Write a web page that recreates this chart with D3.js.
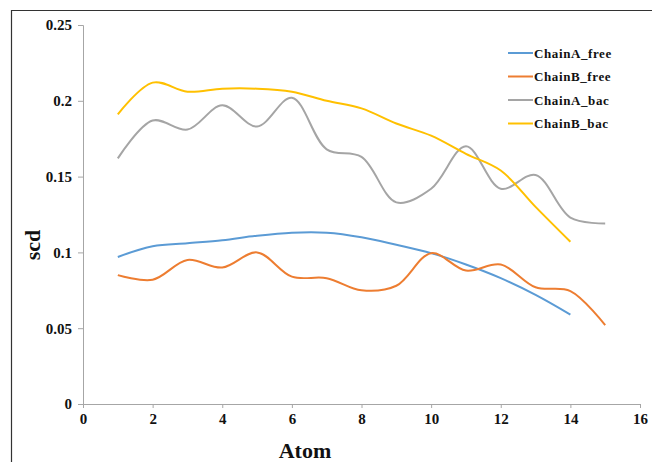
<!DOCTYPE html>
<html>
<head>
<meta charset="utf-8">
<script src="https://cdn.jsdelivr.net/npm/d3@7"></script>
<style>
  body { margin: 0; background: #fff; }
  svg text { font-family: "Liberation Serif", "Times New Roman", serif; font-weight: bold; fill: #111; }
</style>
</head>
<body>
<div id="chart"></div>
<script>
// values
const atoms = [1, 2, 3, 4, 5, 6, 7, 8, 9, 10, 11, 12, 13, 14, 15];
const chainAFree = [0.097, 0.104, 0.106, 0.108, 0.111, 0.113, 0.113, 0.110, 0.105, 0.0995, 0.092, 0.083, 0.072, 0.059];
const chainBFree = [0.085, 0.082, 0.095, 0.090, 0.100, 0.084, 0.083, 0.075, 0.078, 0.0995, 0.088, 0.092, 0.077, 0.0745, 0.052];
const chainABac = [0.162, 0.187, 0.181, 0.197, 0.183, 0.202, 0.168, 0.163, 0.133, 0.142, 0.170, 0.142, 0.151, 0.123, 0.119];
const chainBBac = [0.191, 0.212, 0.206, 0.208, 0.208, 0.206, 0.200, 0.195, 0.185, 0.177, 0.165, 0.154, 0.130, 0.107];
const xTicks = [0, 2, 4, 6, 8, 10, 12, 14, 16];
const yTicks = [0, 0.05, 0.1, 0.15, 0.2, 0.25];

const seriesList = [
  { name: 'ChainA_free', values: chainAFree, color: '#5b9bd5' },
  { name: 'ChainB_free', values: chainBFree, color: '#ed7d31' },
  { name: 'ChainA_bac', values: chainABac, color: '#a5a5a5' },
  { name: 'ChainB_bac', values: chainBBac, color: '#ffc000' }
];

const W = 652, H = 462;
const margin = { top: 25, right: 12, bottom: 58, left: 83 };
const serif = '"Liberation Serif", "Times New Roman", serif';

const svg = d3.select('#chart').append('svg')
  .attr('width', W)
  .attr('height', H);

// outer frame (top + left edges visible)
svg.append('path')
  .attr('d', 'M11.5,' + H + ' V10.5 H' + W)
  .attr('fill', 'none')
  .attr('stroke', '#333')
  .attr('stroke-width', 1.2);

const x = d3.scaleLinear().domain([0, 16]).range([margin.left, W - margin.right]);
const y = d3.scaleLinear().domain([0, 0.25]).range([H - margin.bottom, margin.top]);

const axisColor = '#a6a6a6';

// y axis
const yAxis = svg.append('g')
  .attr('transform', 'translate(' + margin.left + ',0)')
  .attr('font-family', serif)
  .attr('font-size', 15)
  .call(d3.axisLeft(y).tickValues(yTicks).tickSize(5).tickPadding(6)
    .tickFormat(d => d === 0 ? '0' : String(d)));
yAxis.select('.domain').attr('stroke', axisColor);
yAxis.selectAll('line').attr('stroke', axisColor);
yAxis.selectAll('text').style('font-size', '15px').style('font-family', serif);

// x axis
const xAxis = svg.append('g')
  .attr('transform', 'translate(0,' + y(0) + ')')
  .attr('font-family', serif)
  .attr('font-size', 15)
  .call(d3.axisBottom(x).tickValues(xTicks).tickSize(4).tickPadding(5));
xAxis.select('.domain').attr('stroke', axisColor);
xAxis.selectAll('line').attr('stroke', axisColor);
xAxis.selectAll('text').style('font-size', '15px').style('font-family', serif);

// axis titles
svg.append('text')
  .attr('x', 305)
  .attr('y', 458)
  .attr('text-anchor', 'middle')
  .style('font-size', '22px')
  .text('Atom');

svg.append('text')
  .attr('transform', 'translate(40,245) rotate(-90)')
  .attr('text-anchor', 'middle')
  .style('font-size', '22px')
  .text('scd');

// lines
const line = d3.line()
  .x((d, i) => x(atoms[i]))
  .y(d => y(d))
  .curve(d3.curveCatmullRom.alpha(0.5));

svg.append('g').selectAll('path')
  .data(seriesList)
  .join('path')
  .attr('d', s => line(s.values))
  .attr('fill', 'none')
  .attr('stroke', s => s.color)
  .attr('stroke-width', 2);

// legend
const legend = svg.append('g').attr('transform', 'translate(508,53)');
const rows = legend.selectAll('g')
  .data(seriesList)
  .join('g')
  .attr('transform', (d, i) => 'translate(0,' + i * 23.5 + ')');
rows.append('line')
  .attr('x1', 0).attr('x2', 25)
  .attr('stroke', d => d.color)
  .attr('stroke-width', 2);
rows.append('text')
  .attr('x', 26)
  .attr('dy', '0.35em')
  .style('font-size', '13px')
  .style('letter-spacing', '0.6px')
  .text(d => d.name);
</script>
</body>
</html>
